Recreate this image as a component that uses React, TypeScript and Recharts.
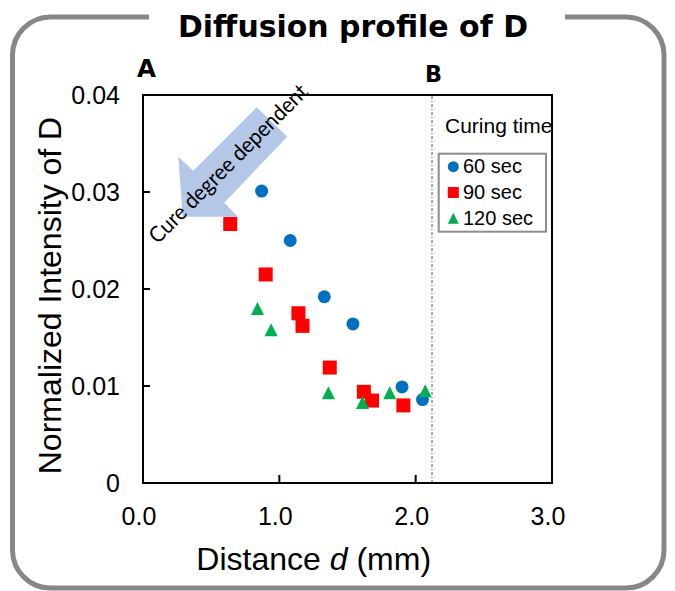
import React from 'react';
import { ScatterChart, Scatter, XAxis, YAxis, ReferenceLine, ReferenceArea, Legend } from 'recharts';

const FONT = '"Liberation Sans", Arial, sans-serif';
const BOLD_FONT = '"DejaVu Sans", sans-serif';

const X_TICKS = [0, 1, 2, 3];
const Y_TICKS = [0, 0.01, 0.02, 0.03, 0.04];
const BOUNDARY_B = 2.12;

// 60 sec
const SEC60_X = [0.87, 1.08, 1.33, 1.54, 1.9, 2.05];
const SEC60_Y = [0.0301, 0.025, 0.0192, 0.0164, 0.0099, 0.0086];
// 90 sec
const SEC90_X = [0.64, 0.9, 1.14, 1.17, 1.37, 1.62, 1.68, 1.91];
const SEC90_Y = [0.0267, 0.0215, 0.0175, 0.0162, 0.0119, 0.0094, 0.0085, 0.008];
// 120 sec
const SEC120_X = [0.84, 0.94, 1.36, 1.61, 1.81, 2.07];
const SEC120_Y = [0.018, 0.0158, 0.0093, 0.0083, 0.0093, 0.0095];

type Kind = 'circle' | 'square' | 'triangle';

const SERIES: { name: string; color: string; kind: Kind; xs: number[]; ys: number[] }[] = [
  { name: '60 sec', color: '#0070C0', kind: 'circle', xs: SEC60_X, ys: SEC60_Y },
  { name: '90 sec', color: '#FF0000', kind: 'square', xs: SEC90_X, ys: SEC90_Y },
  { name: '120 sec', color: '#00B050', kind: 'triangle', xs: SEC120_X, ys: SEC120_Y },
];

const toPoints = (xs: number[], ys: number[]) => xs.map((x, i) => ({ x, y: ys[i] }));

const Marker = ({ kind, cx, cy, color, s }: { kind: Kind; cx: number; cy: number; color: string; s: number }) => {
  if (kind === 'circle') return <circle cx={cx} cy={cy} r={s / 2} fill={color} />;
  if (kind === 'square') return <rect x={cx - s / 2} y={cy - s / 2} width={s} height={s} fill={color} />;
  return (
    <polygon
      points={`${cx},${cy - s / 2} ${cx + s / 2},${cy + s / 2} ${cx - s / 2},${cy + s / 2}`}
      fill={color}
    />
  );
};

const MARK_SIZE: Record<Kind, number> = { circle: 13, square: 14, triangle: 13 };

const XTick = ({ x, y, payload }: any) => (
  <g>
    <line x1={x} y1={y} x2={x} y2={y - 8} stroke="#000" strokeWidth={2} />
    <text x={x - 4} y={y + 42} textAnchor="middle" fontSize={25} fontFamily={FONT} fill="#000">
      {payload.value.toFixed(1)}
    </text>
  </g>
);

const YTick = ({ x, y, payload }: any) => (
  <g>
    <line x1={x} y1={y} x2={x + 7} y2={y} stroke="#000" strokeWidth={2} />
    <text x={x - 23} y={y + 9} textAnchor="end" fontSize={25} fontFamily={FONT} fill="#000">
      {payload.value === 0 ? '0' : payload.value.toFixed(2)}
    </text>
  </g>
);

const LegendBox = () => (
  <svg width={130} height={130} style={{ overflow: 'visible' }}>
    <text x={9} y={25} fontSize={21} fontFamily={FONT} fill="#000">
      Curing time
    </text>
    <rect x={2.7} y={45.7} width={107.3} height={78} fill="#fff" stroke="#8c8c8c" strokeWidth={2} />
    {SERIES.map((s, i) => {
      const cy = 58.7 + i * 25.8;
      return (
        <g key={s.name}>
          <Marker kind={s.kind} cx={17.3} cy={cy} color={s.color} s={11} />
          <text x={27} y={cy + 6.5} fontSize={20} fontFamily={FONT} fill="#000">
            {s.name}
          </text>
        </g>
      );
    })}
  </svg>
);

export default function App() {
  return (
    <div style={{ position: 'absolute', left: 0, top: 0, width: 675, height: 591, background: '#fff' }}>
      <ScatterChart width={675} height={591} margin={{ top: 95, right: 123, bottom: 68, left: 83 }}>
        <XAxis
          type="number"
          dataKey="x"
          domain={[0, 3]}
          ticks={X_TICKS}
          height={40}
          tickSize={0}
          tickMargin={0}
          tickLine={false}
          tick={<XTick />}
          axisLine={{ stroke: '#000', strokeWidth: 2 }}
          allowDataOverflow
        />
        <YAxis
          type="number"
          dataKey="y"
          domain={[0, 0.04]}
          ticks={Y_TICKS}
          width={60}
          tickSize={0}
          tickMargin={0}
          tickLine={false}
          tick={<YTick />}
          axisLine={{ stroke: '#000', strokeWidth: 2 }}
          allowDataOverflow
        />
        <ReferenceArea x1={0} x2={3} y1={0} y2={0.04} fill="none" stroke="#000" strokeWidth={2} />
        <ReferenceLine x={BOUNDARY_B} stroke="#555" strokeWidth={1} strokeDasharray="3 2 1 2" />
        {SERIES.map((s) => (
          <Scatter
            key={s.name}
            name={s.name}
            data={toPoints(s.xs, s.ys)}
            fill={s.color}
            isAnimationActive={false}
            shape={(p: any) => <Marker kind={s.kind} cx={p.cx} cy={p.cy} color={s.color} s={MARK_SIZE[s.kind]} />}
          />
        ))}
        <Legend
          layout="horizontal"
          verticalAlign="middle"
          align="center"
          content={<LegendBox />}
          wrapperStyle={{ left: 436, top: 108, width: 130, height: 130 }}
        />
      </ScatterChart>

      <svg
        width={675}
        height={591}
        style={{ position: 'absolute', left: 0, top: 0, pointerEvents: 'none' }}
      >
        <rect x={12.5} y={17} width={651.5} height={571} rx={38} fill="none" stroke="#878787" strokeWidth={5} />
        <rect x={149} y={8} width={416} height={18} fill="#fff" />
        <text
          x={353}
          y={37}
          textAnchor="middle"
          fontSize={30}
          fontWeight="bold"
          fontFamily={BOLD_FONT}
          textLength={350}
          lengthAdjust="spacingAndGlyphs"
        >
          Diffusion profile of D
        </text>
        <text x={137} y={77} fontSize={25} fontWeight="bold" fontFamily={BOLD_FONT} textLength={19} lengthAdjust="spacingAndGlyphs">
          A
        </text>
        <text x={425} y={82} fontSize={23} fontWeight="bold" fontFamily={BOLD_FONT} textLength={17} lengthAdjust="spacingAndGlyphs">
          B
        </text>

        <polygon
          points="256.7,107.3 287.3,136.7 224.3,202.7 237.7,216.7 182.7,216.7 178.3,156.7 193.3,170.7"
          fill="#B4C7E7"
        />
        <text
          x={0}
          y={0}
          transform="translate(227.5,163) rotate(-45)"
          textAnchor="middle"
          dominantBaseline="central"
          fontSize={22}
          fontFamily='Lato, "Open Sans", sans-serif'
          textLength={214}
          lengthAdjust="spacingAndGlyphs"
        >
          Cure degree dependent
        </text>

        <text
          transform="translate(61,295.5) rotate(-90)"
          textAnchor="middle"
          fontSize={32}
          fontFamily={FONT}
        >
          Normalized Intensity of D
        </text>
        <text x={313.7} y={570} textAnchor="middle" fontSize={32} fontFamily={FONT}>
          Distance <tspan fontStyle="italic">d</tspan> (mm)
        </text>
      </svg>
    </div>
  );
}
